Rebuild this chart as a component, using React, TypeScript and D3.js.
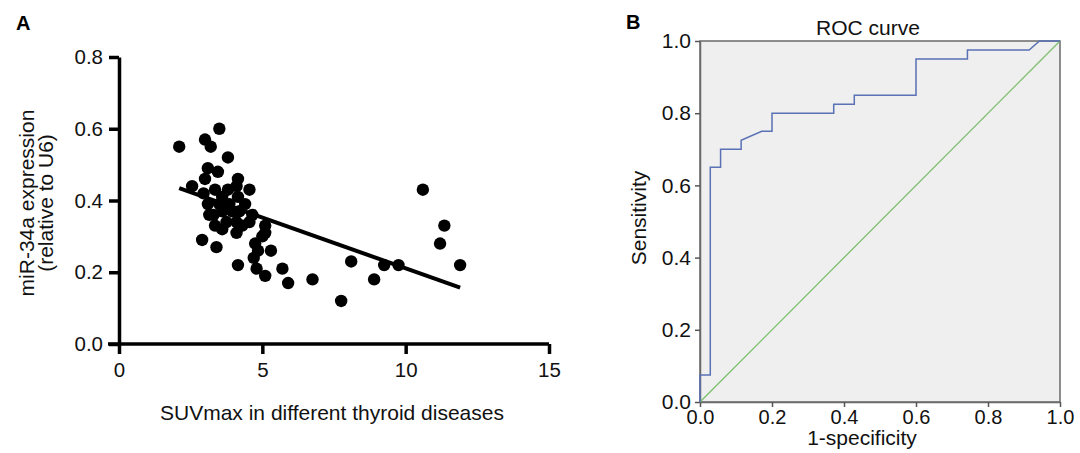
import React, { useRef, useEffect } from "react";
import * as d3 from "d3";

// panel A: SUVmax vs miR-34a expression
const suvmax = [
  2.1, 3.5, 3.0, 3.2, 3.8, 3.1, 3.45, 3.0, 4.15, 4.1, 4.55, 2.55, 2.95, 3.35,
  3.6, 4.15, 3.85, 3.3, 3.6, 4.2, 4.65, 3.35, 3.75, 4.1, 4.55, 5.1, 4.1, 5.0,
  2.9, 3.4, 4.15, 4.75, 4.85, 5.3, 4.7, 4.8, 5.1, 5.7, 5.9, 10.6, 11.35, 11.2,
  11.9, 8.1, 9.25, 9.75, 8.9, 6.75, 7.75, 3.15, 3.6, 3.8, 3.95, 4.4, 3.5, 3.1,
  4.3, 5.1,
];
const mir34a = [
  0.55, 0.6, 0.57, 0.55, 0.52, 0.49, 0.48, 0.46, 0.46, 0.44, 0.43, 0.44, 0.42,
  0.43, 0.41, 0.41, 0.39, 0.36, 0.37, 0.37, 0.36, 0.33, 0.34, 0.34, 0.34, 0.33,
  0.31, 0.3, 0.29, 0.27, 0.22, 0.28, 0.26, 0.26, 0.24, 0.21, 0.19, 0.21, 0.17,
  0.43, 0.33, 0.28, 0.22, 0.23, 0.22, 0.22, 0.18, 0.18, 0.12, 0.36, 0.32, 0.43,
  0.37, 0.39, 0.39, 0.39, 0.33, 0.31,
];
const fitIntercept = 0.494;
const fitSlope = -0.0283;
const scatterXTicks = [0, 5, 10, 15];
const scatterYTicks = [0, 0.2, 0.4, 0.6, 0.8];

// panel B: ROC curve
const rocFpr = [
  0, 0, 1 / 35, 1 / 35, 2 / 35, 2 / 35, 4 / 35, 4 / 35, 6 / 35, 7 / 35, 7 / 35,
  13 / 35, 13 / 35, 15 / 35, 15 / 35, 21 / 35, 21 / 35, 26 / 35, 26 / 35,
  32 / 35, 33 / 35, 1,
];
const rocTpr = [
  0, 0.075, 0.075, 0.65, 0.65, 0.7, 0.7, 0.725, 0.75, 0.75, 0.8, 0.8, 0.825,
  0.825, 0.85, 0.85, 0.95, 0.95, 0.975, 0.975, 1, 1,
];
const rocTicks = [0, 0.2, 0.4, 0.6, 0.8, 1.0];

const FONT = "'Liberation Sans', Arial, sans-serif";

const App: React.FC = () => {
  const svgRef = useRef<SVGSVGElement>(null);

  useEffect(() => {
    if (!svgRef.current) return;
    const svg = d3.select(svgRef.current);
    svg.selectAll("*").remove();
    svg.style("font-family", FONT);

    // ---------- panel A ----------
    const xS = d3.scaleLinear().domain([0, 15]).range([119, 549]);
    const yS = d3.scaleLinear().domain([0, 0.8]).range([344, 57]);

    const gA = svg.append("g");

    const xAxis = gA
      .append("g")
      .attr("transform", "translate(0,344)")
      .call(
        d3
          .axisBottom(xS)
          .tickValues(scatterXTicks)
          .tickSize(10)
          .tickSizeOuter(0)
          .tickPadding(8)
          .tickFormat(d3.format("d"))
      );
    const yAxis = gA
      .append("g")
      .attr("transform", "translate(119,0)")
      .call(
        d3
          .axisLeft(yS)
          .tickValues(scatterYTicks)
          .tickSize(10)
          .tickSizeOuter(0)
          .tickPadding(6)
          .tickFormat(d3.format(".1f"))
      );
    [xAxis, yAxis].forEach((ax) => {
      ax.select(".domain").attr("stroke", "#000").attr("stroke-width", 3.5);
      ax.selectAll(".tick line").attr("stroke", "#000").attr("stroke-width", 3.5);
      ax.selectAll(".tick text")
        .attr("fill", "#111")
        .style("font-size", "20.5px")
        .style("font-family", FONT);
    });
    xAxis.select(".domain").attr("d", `M108,0H${xS(15)}`);

    gA.selectAll(".dot")
      .data(suvmax.map((x, i) => ({ x, y: mir34a[i] })))
      .enter()
      .append("circle")
      .attr("class", "dot")
      .attr("cx", (d) => xS(d.x))
      .attr("cy", (d) => yS(d.y))
      .attr("r", 6.2)
      .attr("fill", "#000");

    const [xMin, xMax] = d3.extent(suvmax) as [number, number];
    gA.append("line")
      .attr("x1", xS(xMin))
      .attr("y1", yS(fitIntercept + fitSlope * xMin))
      .attr("x2", xS(xMax))
      .attr("y2", yS(fitIntercept + fitSlope * xMax))
      .attr("stroke", "#000")
      .attr("stroke-width", 4);

    gA.append("text")
      .attr("x", 332)
      .attr("y", 420)
      .attr("text-anchor", "middle")
      .style("font-size", "21px")
      .attr("fill", "#111")
      .text("SUVmax in different thyroid diseases");

    const yTitle = gA
      .append("text")
      .attr("transform", "translate(34,203) rotate(-90)")
      .attr("text-anchor", "middle")
      .style("font-size", "21px")
      .attr("fill", "#111");
    yTitle.append("tspan").attr("x", 0).attr("y", 0).text("miR-34a expression");
    yTitle.append("tspan").attr("x", 0).attr("y", 19).text("(relative to U6)");

    svg
      .append("text")
      .attr("x", 16)
      .attr("y", 30)
      .attr("font-size", 20)
      .attr("font-weight", "bold")
      .attr("fill", "#000")
      .text("A");

    // ---------- panel B ----------
    const rx = d3.scaleLinear().domain([0, 1]).range([700, 1060]);
    const ry = d3.scaleLinear().domain([0, 1]).range([402, 41]);
    const gB = svg.append("g");

    gB.append("rect")
      .attr("x", rx(0))
      .attr("y", ry(1))
      .attr("width", rx(1) - rx(0))
      .attr("height", ry(0) - ry(1))
      .attr("fill", "#efefef")
      .attr("stroke", "#6a6a6a")
      .attr("stroke-width", 1.5);

    const rxAxis = gB
      .append("g")
      .attr("transform", `translate(0,${ry(0)})`)
      .call(
        d3
          .axisBottom(rx)
          .tickValues(rocTicks)
          .tickSize(5)
          .tickSizeOuter(0)
          .tickPadding(3)
          .tickFormat(d3.format(".1f"))
      );
    const ryAxis = gB
      .append("g")
      .attr("transform", `translate(${rx(0)},0)`)
      .call(
        d3
          .axisLeft(ry)
          .tickValues(rocTicks)
          .tickSize(5)
          .tickSizeOuter(0)
          .tickPadding(4)
          .tickFormat(d3.format(".1f"))
      );
    [rxAxis, ryAxis].forEach((ax) => {
      ax.select(".domain").attr("stroke", "#6a6a6a").attr("stroke-width", 1.5);
      ax.selectAll(".tick line").attr("stroke", "#555").attr("stroke-width", 1.5);
      ax.selectAll(".tick text")
        .attr("fill", "#111")
        .style("font-family", FONT);
    });
    rxAxis.selectAll(".tick text").style("font-size", "20px");
    ryAxis.selectAll(".tick text").style("font-size", "21px");

    gB.append("line")
      .attr("x1", rx(0))
      .attr("y1", ry(0))
      .attr("x2", rx(1))
      .attr("y2", ry(1))
      .attr("stroke", "#7dbf6c")
      .attr("stroke-width", 1.3);

    const rocLine = d3
      .line<number>()
      .x((d) => rx(d))
      .y((_, i) => ry(rocTpr[i]));
    gB.append("path")
      .attr("d", rocLine(rocFpr) as string)
      .attr("fill", "none")
      .attr("stroke", "#5a72b5")
      .attr("stroke-width", 1.5);

    gB.append("text")
      .attr("x", 868)
      .attr("y", 35)
      .attr("text-anchor", "middle")
      .style("font-size", "21px")
      .attr("fill", "#111")
      .text("ROC curve");

    gB.append("text")
      .attr("x", 862)
      .attr("y", 445)
      .attr("text-anchor", "middle")
      .style("font-size", "21px")
      .attr("fill", "#111")
      .text("1-specificity");

    gB.append("text")
      .attr("transform", "translate(646,218) rotate(-90)")
      .attr("text-anchor", "middle")
      .style("font-size", "21px")
      .attr("fill", "#111")
      .text("Sensitivity");

    svg
      .append("text")
      .attr("x", 626)
      .attr("y", 29)
      .attr("font-size", 20)
      .attr("font-weight", "bold")
      .attr("fill", "#000")
      .text("B");
  }, []);

  return (
    <svg
      ref={svgRef}
      width={1080}
      height={453}
      style={{ position: "absolute", left: 0, top: 0, background: "#fff" }}
    ></svg>
  );
};

export default App;
